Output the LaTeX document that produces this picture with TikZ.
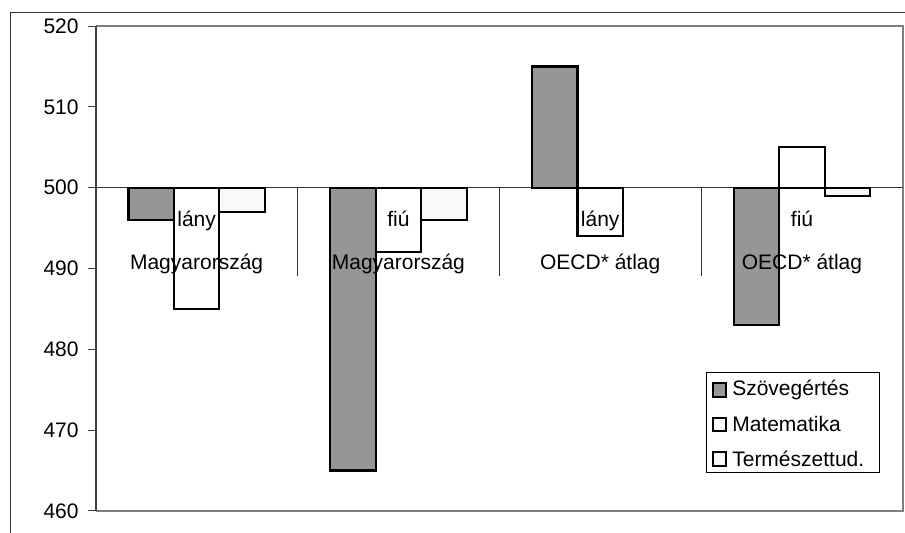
\documentclass[tikz,border=0pt]{standalone}
\usepackage{fontspec}
\setmainfont{Liberation Sans}
\usepackage{tikz}
\definecolor{szov}{HTML}{969696}
\definecolor{term}{HTML}{F8F8F8}
\definecolor{plotframe}{HTML}{7F7F7F}
\tikzset{
  bar/.style={draw=black, line width=1.1pt},
  lbl/.style={font=\fontsize{10.5}{12}\selectfont, inner sep=0pt},
  legkey/.style={draw=black, line width=1pt, minimum size=6.6pt, inner sep=0pt},
  legbox/.style={draw=black, line width=0.5pt, fill=white}
}

\begin{document}
\begin{tikzpicture}[x=0.5pt, y=-0.5pt]
      \useasboundingbox (0,0) rectangle (905,532);
      \clip (0,0) rectangle (905,532);
      % chart frame
      \draw[black!80, line width=0.5pt] (10,12) rectangle (930,560);
      \draw[plotframe, line width=1pt] (95.7,26) -- (903,26) -- (903,510.7) -- (95.7,510.7);
      \draw[black!75, line width=0.9pt] (95.7,26) -- (95.7,510.7);
      % value axis
      \foreach \v in {460,470,...,520} {
        \pgfmathsetmacro\py{187.6-(\v-500)*8.08}
        \draw[black!75, line width=0.5pt] (88,\py) -- (95.7,\py);
        \node[lbl, anchor=east] (tick\v) at (79,\py) {\v};
      }
      \draw[black!80, line width=0.5pt] (95.7,187.6) -- (903,187.6);
      % category dividers
      \foreach \i in {1,2,3} {
        \pgfmathsetmacro\dx{95.7+\i*201.8}
        \draw[black!80, line width=0.5pt] (\dx,187.6) -- (\dx,276);
      }
      % bars and labels
      \foreach \i/\sz/\ma/\te/\sex/\grp in {0/496/485/497/lány/Magyarország,
          1/465/492/496/fiú/Magyarország, 2/515/494/500/lány/OECD* átlag,
          3/483/505/499/fiú/OECD* átlag} {
        \pgfmathsetmacro\cx{196.6+\i*201.8}
        \draw[bar, fill=szov] (\cx-68.2,187.6) rectangle (\cx-22.7,{187.6-(\sz-500)*8.08});
        \draw[bar, fill=white] (\cx-22.7,187.6) rectangle (\cx+22.7,{187.6-(\ma-500)*8.08});
        \ifnum\te=500 \else
          \draw[bar, fill=term] (\cx+22.7,187.6) rectangle (\cx+68.2,{187.6-(\te-500)*8.08});
        \fi
        \node[lbl, anchor=base] (sex\i) at (\cx,226) {\sex};
        \node[lbl, anchor=base] (grp\i) at (\cx,269) {\grp};
      }
      % legend
      \node[legbox, minimum width=86.5pt, minimum height=50.3pt, anchor=north west] (legend) at (705.5,371.7) {};
      \node[legkey, fill=szov] (key1) at (719.3,390) {};
      \node[legkey, fill=white] (key2) at (719.3,424.3) {};
      \node[legkey, fill=term] (key3) at (719.3,459) {};
      \node[lbl, anchor=west] at ([xshift=2.5pt]key1.east) {Szövegértés};
      \node[lbl, anchor=west] at ([xshift=2.5pt]key2.east) {Matematika};
      \node[lbl, anchor=west] at ([xshift=2.5pt]key3.east) {Természettud.};
\end{tikzpicture}
\end{document}
